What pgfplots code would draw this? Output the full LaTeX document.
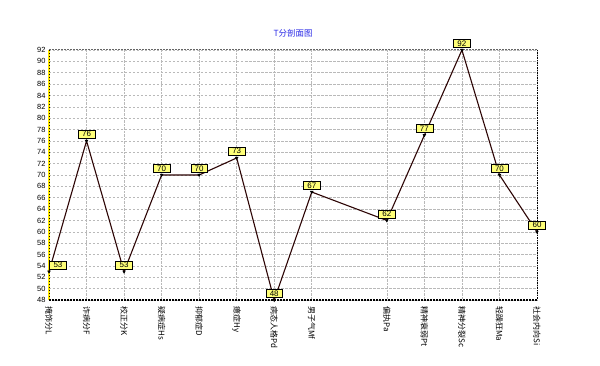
\documentclass[border=0pt]{standalone}
\usepackage{pgfplots}
\pgfplotsset{compat=1.18}
\usepackage{fontspec}
\setmainfont{Liberation Sans}
\newfontfamily\cjk{Noto Sans CJK SC}
\definecolor{lineC}{RGB}{45,5,5}
\definecolor{boxY}{RGB}{255,255,120}
\definecolor{titleB}{RGB}{40,40,230}
\begin{document}
\begin{tikzpicture}
\useasboundingbox (-49bp,-66bp) rectangle (551bp,300bp);
\begin{axis}[
  scale only axis,
  width=488bp, height=250bp,
  xmin=0, xmax=13,
  ymin=48, ymax=92,
  ytick={48,50,...,92},
  xtick={0,1,2,3,4,5,6,7,9,10,11,12,13},
  xticklabels={掩饰分L,诈病分F,校正分K,疑病症Hs,抑郁症D,癔症Hy,病态人格Pd,男子气Mf,偏执Pa,精神衰弱Pt,精神分裂Sc,轻躁狂Ma,社会内向Si},
  xticklabel style={font=\cjk\fontsize{8}{9}\selectfont, rotate=-90, anchor=west, xshift=3bp},
  yticklabel style={font=\fontsize{7.5}{8}\selectfont, xshift=0bp},
  /pgf/number format/assume math mode=true,
  major tick length=0pt,
  xmajorgrids, ymajorgrids,
  x grid style={gray!55, densely dotted, line width=0.6bp},
  y grid style={gray!55, dash pattern=on 2.5bp off 1.5bp, line width=0.6bp},
  axis line style={draw=none},
  title={\cjk T分剖面图},
  title style={font=\fontsize{8.5}{9}\selectfont, text=titleB, at={(0.5,1)}, anchor=south, yshift=3bp},
  clip=false,
  nodes near coords,
  nodes near coords style={font=\fontsize{8}{9}\selectfont, fill=boxY, draw=black, line width=0.4bp, inner xsep=4bp, inner ysep=1.2bp, anchor=south, yshift=2.5bp, /pgf/number format/assume math mode=true},
  coordinate style/.condition={x<0.5}{xshift=9bp},
]
\draw[gray!80!black, dash pattern=on 2bp off 1bp, line width=1bp] (rel axis cs:0,1) -- (rel axis cs:1,1);
\draw[black, dash pattern=on 1.5bp off 1bp, line width=1bp] (rel axis cs:1,1) -- (rel axis cs:1,0);
\draw[black, dash pattern=on 2bp off 1bp, line width=1.2bp] (rel axis cs:0,0) -- (rel axis cs:1,0);
\draw[yellow!90!orange, line width=2.2bp] (rel axis cs:0,0) -- (rel axis cs:0,1);
\draw[black, dash pattern=on 1.5bp off 1.5bp, line width=0.8bp] (rel axis cs:0,0) -- (rel axis cs:0,1);
\addplot[lineC, line width=1.1bp, mark=triangle*, mark options={black, rotate=180, scale=0.5}] coordinates {
  (0,53) (1,76) (2,53) (3,70) (4,70) (5,73) (6,48) (7,67) (9,62) (10,77) (11,92) (12,70) (13,60)
};
\end{axis}
\end{tikzpicture}
\end{document}
